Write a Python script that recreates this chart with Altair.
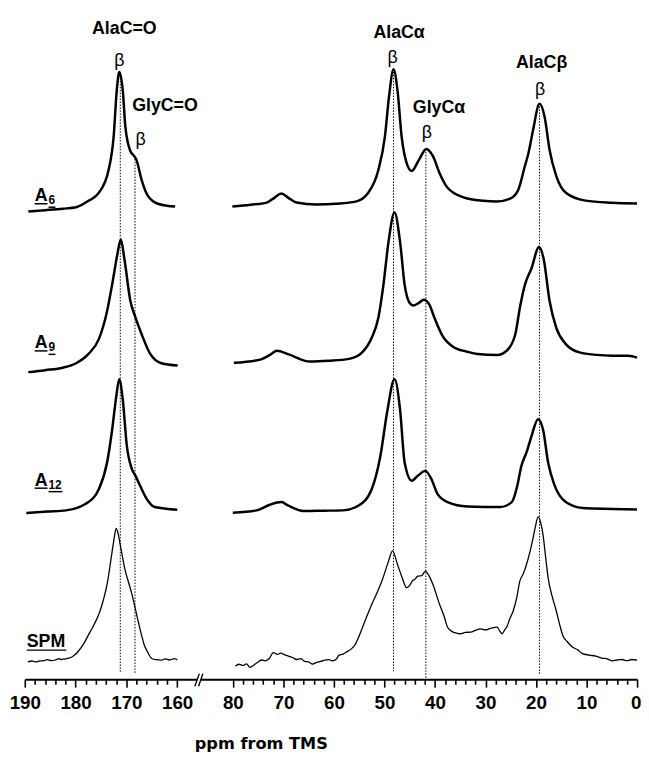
import altair as alt
import pandas as pd

# ---------------- data (ppm, intensity above each trace's baseline) ----------------
series_names = ["A6", "A9", "A12", "SPM"]
baselines = [478, 318, 171, 19]
line_widths = [2.5, 2.5, 2.5, 1.3]

A6_left_ppm = [189.3, 186, 182.5, 179.9, 177.4, 175.4, 173.5, 172.5, 171.9, 171.4, 170.7, 170.2, 169.2, 168.6, 168.0, 167.0, 166.1, 164.3, 162.0, 160.4]
A6_left_int = [-4.3, -3, -1.5, 0, 6.7, 14.7, 37.7, 71.7, 117.7, 137, 117.7, 81.7, 56.7, 52.7, 47.7, 27.7, 14.7, 4.7, 1.5, 0.7]
A6_right_ppm = [80.7, 76.5, 73.3, 71.8, 70.4, 69.0, 67.4, 63.5, 59.5, 55.7, 53.2, 51.2, 49.9, 49.1, 48.2, 47.4, 46.6, 45.6, 44.6, 43.2, 41.7, 40.4, 39.1, 37.5, 34.2, 30.5, 27.8, 25.1, 23.5, 22.2, 21.5, 20.6, 19.3, 18.3, 17.3, 16.0, 14.1, 10.2, 5.0, 0.0]
A6_right_int = [0.7, 2.5, 4.7, 9.5, 14, 9.5, 4.7, 2.7, 3.5, 5.7, 14.7, 37.7, 71.7, 111.7, 139.7, 117.7, 71.7, 44.7, 36.7, 47.7, 59, 51.7, 34.7, 19.7, 9.7, 6.5, 5.7, 8.7, 17.7, 41.7, 54.7, 77.7, 104.7, 91.7, 57.7, 31.7, 14.7, 6.7, 4.5, 3.7]

A9_left_ppm = [189.3, 186, 182.5, 179.9, 177.4, 175.4, 173.8, 172.8, 171.8, 171.1, 170.4, 169.2, 168.3, 167.0, 165.3, 163.1, 159.2]
A9_left_int = [-7, -5, -2.5, 2, 11.7, 26.7, 54.7, 81.7, 111.7, 127.4, 108, 64.7, 49.7, 31.4, 11.4, 2, -0.3]
A9_right_ppm = [79.8, 74.6, 72.5, 71.3, 68.8, 64.8, 61.0, 57.0, 54.4, 52.5, 51.2, 50.2, 49.2, 48.0, 46.9, 46.0, 45.0, 44.3, 43.2, 42.2, 41.1, 40.1, 38.5, 36.2, 33.6, 31.6, 27.7, 25.8, 24.1, 23.2, 22.2, 20.9, 19.4, 18.5, 17.3, 16.0, 14.1, 11.4, 8.0, 4.9, 1.7, 0.0]
A9_right_int = [2.4, 5.7, 11, 14.7, 10.7, 3.7, 4.5, 6.4, 13, 28, 48, 81.4, 124.7, 154.7, 124.7, 81.4, 63, 60.4, 63, 66.4, 61.4, 48, 29.7, 18, 13.7, 11.4, 10.4, 14.7, 31.4, 58, 81.4, 98, 119.7, 108, 64.7, 38, 21.4, 13, 10.5, 9.7, 9.7, 7.7]

A12_left_ppm = [189.7, 185.5, 181.9, 178.0, 175.4, 173.8, 172.8, 172.0, 171.4, 170.7, 169.9, 168.9, 168.2, 167.3, 166.0, 164.4, 159.8]
A12_left_int = [-2.6, -1.2, 0, 6.7, 21.7, 48.4, 81.7, 115, 132.7, 111.7, 65, 41.7, 35, 25, 11.7, 3.4, 0.7]
A12_right_ppm = [80.1, 75.3, 72.7, 70.4, 69.1, 66.1, 62.0, 58.3, 55.1, 52.5, 50.8, 49.5, 48.0, 46.9, 46.0, 44.6, 43.4, 41.9, 40.7, 39.5, 37.5, 33.6, 27.1, 24.8, 23.7, 22.9, 21.9, 20.9, 19.6, 18.6, 17.6, 16.3, 14.1, 10.8, 5.0, 0.0]
A12_right_int = [-2.3, 0, 5.7, 8.4, 5, -0.6, -0.3, 0, 5, 21.7, 55, 98.4, 132.7, 101.7, 48.4, 30, 35, 40, 31.7, 16.7, 8.4, 4, 3.4, 8.4, 25, 45, 58.4, 75, 92.4, 81.7, 48.4, 25, 8.4, 2.4, 1.5, 1]

SPM_left_ppm = [189.4, 188.6, 187.8, 187.0, 186.4, 185.6, 184.8, 184.0, 183.3, 182.9, 182.2, 181.5, 180.9, 180.2, 179.3, 178.5, 177.7, 176.5, 175.4, 174.6, 173.8, 172.8, 172.4, 172.0, 171.6, 171.2, 170.2, 169.5, 168.9, 168.0, 167.0, 166.5, 166.0, 165.0, 164.2, 163.1, 162.3, 161.5, 160.5, 159.8]
SPM_left_int = [-1.3, -0.5, -1.5, -0.3, -0.3, 0.8, -0.2, 0.5, 1.8, 1, 1.5, 2.2, 3, 5.5, 10.4, 16, 23.7, 35, 47, 60, 77, 110.4, 124, 133.7, 128, 117, 90.4, 78, 67, 47, 25.4, 16, 10.4, 2, 0.8, 0.4, 1.6, 0.5, 2, 0.4]
SPM_right_ppm = [79.5, 78.8, 78.0, 77.3, 76.6, 75.8, 75.0, 74.3, 73.6, 72.8, 72.0, 71.2, 70.5, 69.8, 69.0, 68.2, 67.4, 66.6, 65.8, 65.0, 64.2, 63.4, 62.6, 61.8, 61.0, 60.3, 59.5, 59.0, 58.2, 57.4, 56.6, 55.8, 55.1, 54.0, 52.5, 51.5, 50.5, 49.2, 48.4, 47.4, 46.5, 45.6, 45.0, 44.4, 44.0, 43.4, 42.6, 41.9, 41.2, 40.4, 39.1, 38.2, 37.5, 36.5, 35.6, 34.9, 34.0, 32.9, 32.0, 31.0, 30.0, 29.0, 27.7, 27.2, 26.7, 26.2, 25.8, 25.2, 24.5, 23.8, 23.2, 22.5, 21.9, 21.2, 20.6, 20.1, 19.6, 19.1, 18.6, 18.1, 17.6, 16.8, 16.0, 15.3, 14.7, 13.8, 12.8, 11.8, 10.8, 9.5, 8.2, 7.0, 5.8, 4.9, 4.0, 3.0, 2.0, 1.0, 0.0]
SPM_right_int = [-5.6, -3.8, -5.0, -3.5, -7.0, -4.5, -1.5, 0.5, -0.3, 2.0, 8.0, 6.2, 7.5, 6.0, 4.5, 3.0, 1.0, 1.8, -0.8, -1.5, -3.6, -2.0, -1.0, 0.4, 0.8, -0.3, 1.5, 5.4, 6.5, 9.0, 11.5, 16, 23.7, 38, 57, 68, 80.4, 100.4, 111, 97, 84, 73.7, 76, 81, 82, 85.4, 86, 90.4, 86, 77, 57, 45, 33.7, 29, 27.5, 27, 28.5, 28.7, 30.5, 32, 31, 32.5, 33.7, 30, 27, 31, 33.7, 42, 50.4, 64, 80.4, 88, 97, 110, 123.7, 136, 145.4, 140, 127, 105, 83.7, 65, 50.4, 36, 25.4, 19, 13.7, 11, 7, 5.5, 4.4, 2.5, 1.5, -0.3, 0.5, 1, -0.2, 1, 0.4]

segments = {
    "A6": [(A6_left_ppm, A6_left_int), (A6_right_ppm, A6_right_int)],
    "A9": [(A9_left_ppm, A9_left_int), (A9_right_ppm, A9_right_int)],
    "A12": [(A12_left_ppm, A12_left_int), (A12_right_ppm, A12_right_int)],
    "SPM": [(SPM_left_ppm, SPM_left_int), (SPM_right_ppm, SPM_right_int)],
}

# axis ticks
tick_values = list(range(190, 159, -2)) + list(range(80, -1, -2))

# peak reference lines (ppm, top, bottom)
ref_ppm = [171.2, 168.3, 48.2, 41.8, 19.3]
ref_top = [615, 530, 618, 537, 583]
ref_bottom = [6, 6, 8, 1, 5]

# peak annotations
ann_text = ["AlaC=O", "GlyC=O", "AlaCα", "GlyCα", "AlaCβ"]
ann_ppm = [170.4, 162.4, 47.1, 39.2, 18.9]
ann_y = [658, 580, 654, 578, 624]
beta_ppm = [171.4, 167.2, 48.4, 41.6, 19.2]
beta_y = [626, 546, 629, 553, 597]

# sample labels
lab_main = ["A", "A", "A", "SPM"]
lab_sub = ["6", "9", "12", ""]
lab_y = [484, 335, 196, 33]

# ---------------- build tables ----------------
rows = []
for name, base, w in zip(series_names, baselines, line_widths):
    for k, (pp, ii) in enumerate(segments[name]):
        for p, v in zip(pp, ii):
            rows.append({"ppm": p, "y": base + v, "key": f"{name}-{k}", "w": w})
spec_df = pd.DataFrame(rows)

ref_df = pd.DataFrame({"ppm": ref_ppm, "top": ref_top, "bottom": ref_bottom})
ann_df = pd.DataFrame({"ppm": ann_ppm, "y": ann_y, "t": ann_text})
beta_df = pd.DataFrame({"ppm": beta_ppm, "y": beta_y, "t": ["β"] * 5})

main_df = pd.DataFrame({"ppm": [188.06, 188.06, 188.06, 189.61], "y": lab_y, "t": lab_main})
sub_df = pd.DataFrame({"ppm": [185.33] * 3, "y": [v - 3 for v in lab_y[:3]], "t": lab_sub[:3]})
ul_df = pd.DataFrame({
    "x1": [188.06, 188.06, 188.06, 189.61, 185.33, 185.33, 185.33],
    "x2": [185.53, 185.53, 185.53, 181.83, 183.97, 183.97, 182.61],
    "y": [lab_y[0] - 2.5, lab_y[1] - 2.5, lab_y[2] - 2.5, lab_y[3] - 3.5,
          lab_y[0] - 6, lab_y[1] - 6, lab_y[2] - 6],
})

# axis break
break_rect = pd.DataFrame({"x1": [131.3], "x2": [125.7], "y1": [-3], "y2": [3]})
break_slash = pd.DataFrame({"x1": [134.5, 129.2], "x2": [128.2, 123.1], "y1": [-7, -7], "y2": [5.7, 5.7]})

# ---------------- scales ----------------
W, H = 620, 675
xscale = alt.Scale(domain=[190, 160, 80, 0], range=[0, 154.3, 210.7, 620], nice=False, zero=False)
yscale = alt.Scale(domain=[0, H], nice=False, zero=False)

x_axis = alt.Axis(
    values=tick_values,
    labelExpr="datum.value % 10 === 0 ? datum.label : ''",
    labelFont="Liberation Sans",
    labelFontSize=19, labelFontWeight=700, labelColor="black",
    labelOverlap=False, labelFlush=False, labelPadding=7,
    labelAlign={"condition": {"test": "datum.value === 0", "value": "right"}, "value": "center"},
    labelOffset={"condition": {"test": "datum.value === 0", "value": 4}, "value": 0},
    tickSize={"condition": {"test": "datum.value % 10 === 0", "value": 8}, "value": 5},
    tickWidth=1.6, tickColor="black",
    domainColor="black", domainWidth=2, grid=False,
    title="ppm from TMS", titleFont="DejaVu Sans", titleFontSize=16.4,
    titleFontWeight="bold", titleColor="black",
    titleX=239, titleY=65, titleAlign="center", titleBaseline="middle", titleAngle=0,
)

X = lambda f: alt.X(f, type="quantitative", scale=xscale, axis=x_axis)
Y = lambda f: alt.Y(f, type="quantitative", scale=yscale, axis=None)

refs = alt.Chart(ref_df).mark_rule(color="black", strokeWidth=1, strokeDash=[1.5, 1.5]).encode(
    x=X("ppm"), y=Y("top"), y2="bottom")

lines = alt.Chart(spec_df).mark_line(color="black", interpolate="monotone", strokeJoin="round").encode(
    x=X("ppm"), y=Y("y"), detail="key:N",
    strokeWidth=alt.StrokeWidth("w:Q", scale=None),
    order=alt.Order("ppm:Q", sort="descending"))

brk = alt.Chart(break_rect).mark_rect(color="white").encode(x=X("x1"), x2="x2", y=Y("y1"), y2="y2")
slash = alt.Chart(break_slash).mark_rule(color="black", strokeWidth=1.4).encode(
    x=X("x1"), x2="x2", y=Y("y1"), y2="y2")

ann = alt.Chart(ann_df).mark_text(font="Liberation Sans", fontSize=18, fontWeight="bold",
                                  align="center", baseline="middle", color="black").encode(
    x=X("ppm"), y=Y("y"), text="t:N")
beta = alt.Chart(beta_df).mark_text(font="Liberation Sans", fontSize=18,
                                    align="center", baseline="middle", color="black").encode(
    x=X("ppm"), y=Y("y"), text="t:N")

lab = alt.Chart(main_df).mark_text(font="Liberation Sans", fontSize=18, fontWeight="bold",
                                   align="left", baseline="alphabetic", color="black").encode(
    x=X("ppm"), y=Y("y"), text="t:N")
sub = alt.Chart(sub_df).mark_text(font="Liberation Sans", fontSize=12, fontWeight="bold",
                                  align="left", baseline="alphabetic", color="black").encode(
    x=X("ppm"), y=Y("y"), text="t:N")
ul = alt.Chart(ul_df).mark_rule(color="black", strokeWidth=1.5).encode(x=X("x1"), x2="x2", y=Y("y"))

chart = alt.layer(refs, lines, brk, slash, ann, beta, lab, sub, ul).properties(
    width=W, height=H,
    autosize=alt.AutoSizeParams(type="none"),
    padding={"left": 17, "top": 0, "right": 4, "bottom": 75},
    background="white",
).configure_view(stroke=None)

chart.save("out.html", embed_options={"renderer": "svg", "actions": False})
